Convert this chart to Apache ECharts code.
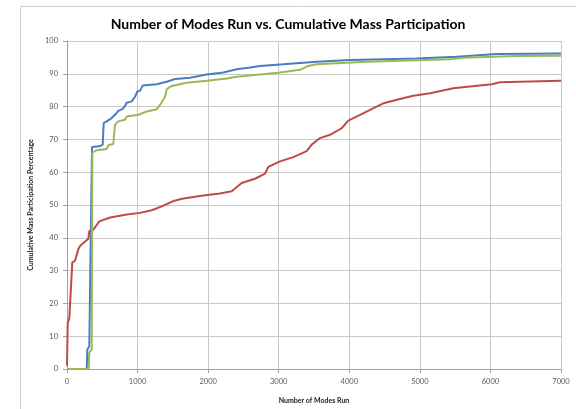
<!DOCTYPE html>
<html><head><meta charset="utf-8">
<script src="https://cdn.jsdelivr.net/npm/echarts@6/dist/echarts.min.js"></script>
<style>html,body{margin:0;padding:0;background:#fff}#c{width:576px;height:409px}</style>
</head><body><div id="c"></div>
<script>
const titleText = "Number of Modes Run vs. Cumulative Mass Participation";
const xName = "Number of Modes Run";
const yName = "Cumulative Mass Participation Percentage";

const blueX = [0, 280, 288, 316, 340, 350, 354, 458, 477, 506, 520, 562, 633, 680, 727, 789, 822, 846, 917, 964, 997, 1034, 1072, 1271, 1413, 1530, 1743, 1980, 2215, 2404, 2593, 2735, 3065, 3538, 4010, 4955, 5522, 6089, 7000];
const blueY = [0, 0, 5.9, 7, 7.6, 7.6, 67.7, 67.9, 68.4, 68.4, 75, 75.5, 76.5, 77.5, 78.7, 79.3, 80.2, 81.2, 81.6, 83, 84.6, 84.8, 86.4, 86.8, 87.6, 88.4, 88.8, 89.8, 90.4, 91.4, 91.9, 92.4, 92.9, 93.7, 94.2, 94.7, 95.2, 96, 96.2];

const redX = [0, 10, 33, 75, 113, 160, 184, 302, 316, 373, 458, 609, 846, 1034, 1200, 1342, 1506, 1649, 1932, 2168, 2334, 2475, 2664, 2806, 2853, 3018, 3207, 3396, 3467, 3585, 3727, 3892, 3986, 4152, 4294, 4482, 4719, 4907, 5144, 5474, 6018, 6136, 6419, 7000];
const redY = [1, 14, 15.5, 32.5, 33, 36.5, 37.5, 39.7, 42, 42.5, 45, 46.2, 47.1, 47.6, 48.4, 49.6, 51.2, 52, 52.9, 53.5, 54.2, 56.7, 58, 59.6, 61.6, 63.3, 64.6, 66.4, 68.4, 70.4, 71.4, 73.4, 75.7, 77.5, 79, 81, 82.3, 83.3, 84.1, 85.6, 86.8, 87.4, 87.6, 87.9];

const greenX = [0, 307, 315, 350, 359, 420, 562, 586, 656, 680, 727, 822, 846, 1011, 1129, 1271, 1318, 1389, 1413, 1484, 1696, 1980, 2263, 2404, 2735, 3018, 3302, 3419, 3538, 4247, 5427, 5616, 6372, 7000];
const greenY = [0, 0, 5, 6, 66, 66.7, 67.1, 68.2, 68.6, 74.5, 75.5, 76, 77, 77.5, 78.5, 79.2, 80.5, 83, 85.3, 86.3, 87.3, 87.9, 88.6, 89.1, 89.8, 90.4, 91.2, 92.4, 92.9, 93.7, 94.4, 94.9, 95.4, 95.5];

function pairs(xs, ys){ return xs.map((x,i)=>[x, ys[i]]); }

const chart = echarts.init(document.getElementById('c'), null, {renderer:'canvas'});
const font = 'Lato, "Open Sans", sans-serif';
const lineSeries = (name, xs, ys, color) => ({
  name, type:'line', data: pairs(xs, ys), showSymbol:false, symbol:'none',
  lineStyle:{color, width:2}, itemStyle:{color}, animation:false, z:3
});
chart.setOption({
  animation:false,
  graphic:[{type:'rect', shape:{x:20.5, y:6.5, width:600, height:450}, style:{fill:'none', stroke:'#d0d0d0', lineWidth:1}, z:-1}],
  title:{text:titleText, left:'center', top:12, textStyle:{fontFamily:font, fontSize:14, fontWeight:'bold', color:'#000'}},
  grid:{left:67, right:15, top:41, bottom:39},
  xAxis:{type:'value', min:0, max:7000, interval:1000,
    name:xName, nameLocation:'middle', nameGap:28,
    nameTextStyle:{fontFamily:font, fontSize:7, fontWeight:'bold', color:'#222'},
    axisLine:{show:true, lineStyle:{color:'#a0a0a0'}},
    axisTick:{show:true, length:4, lineStyle:{color:'#a0a0a0'}},
    axisLabel:{fontFamily:font, fontSize:7.5, color:'#595959', margin:9, formatter: v => String(v)},
    splitLine:{show:true, lineStyle:{color:'#c8c8c8', width:1}}},
  yAxis:{type:'value', min:0, max:100, interval:10,
    name:yName, nameLocation:'middle', nameGap:31, nameRotate:90,
    nameTextStyle:{fontFamily:font, fontSize:7, fontWeight:'bold', color:'#222'},
    axisLine:{show:true, lineStyle:{color:'#a0a0a0'}},
    axisTick:{show:true, length:4, lineStyle:{color:'#a0a0a0'}},
    axisLabel:{fontFamily:font, fontSize:7.5, color:'#595959', margin:9, formatter: v => String(v)},
    splitLine:{show:true, lineStyle:{color:'#c8c8c8', width:1}}},
  series:[
    lineSeries('Blue', blueX, blueY, '#4a7ebb'),
    lineSeries('Red', redX, redY, '#be4b48'),
    lineSeries('Green', greenX, greenY, '#98b954')
  ]
});
</script></body></html>
